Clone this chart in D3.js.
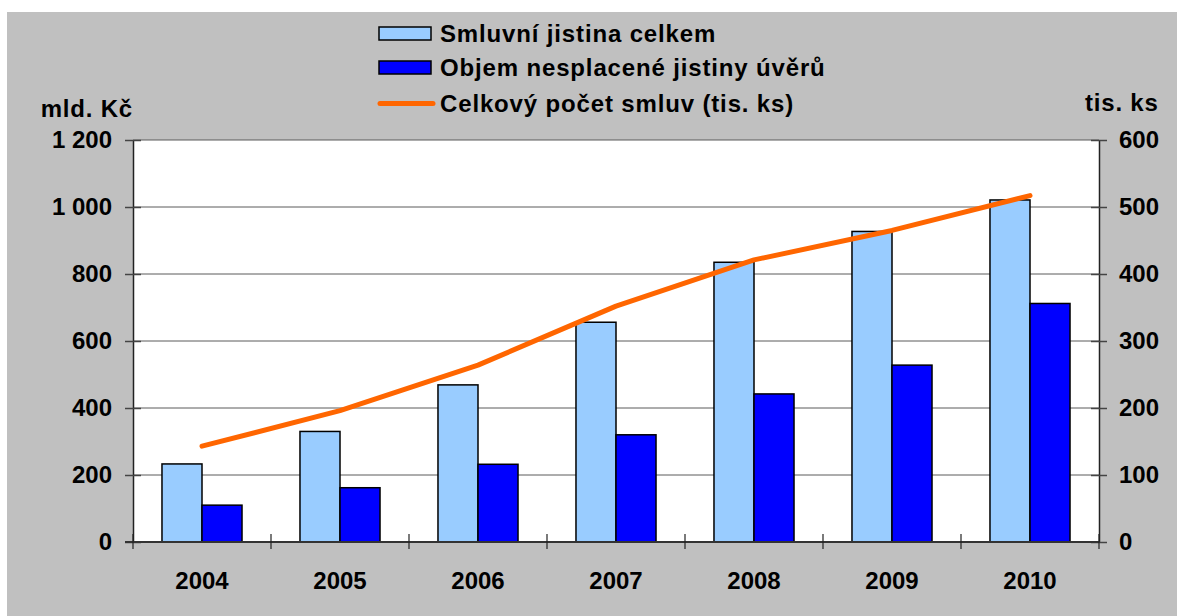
<!DOCTYPE html>
<html>
<head>
<meta charset="utf-8">
<script src="https://cdn.jsdelivr.net/npm/d3@7"></script>
<style>
html,body{margin:0;padding:0;background:#fff;}
svg{display:block;font-family:"Liberation Sans",Arial,sans-serif;font-weight:bold;}
</style>
</head>
<body>
<div id="chart"></div>
<script>
(function(){
const years=['2004','2005','2006','2007','2008','2009','2010'];
const smluvni=[233,330,469,656,835,927,1021];
const nesplacene=[110,162,232,320,442,528,712];
const pocetSmluv=[143,196,264,352,421,465,517];
const leftTicks=[0,200,400,600,800,1000,1200];
const rightTicks=[0,100,200,300,400,500,600];
const seriesNames=['Smluvní jistina celkem','Objem nesplacené jistiny úvěrů','Celkový počet smluv (tis. ks)'];
const barColors=['#99ccff','#0000ff'];
const lineColor='#ff6600';

const W=1177,H=616;
const m={left:133,right:1099,top:140,bottom:542};
const FONT='"Liberation Sans",Arial,sans-serif';
const svg=d3.select('#chart').append('svg').attr('width',W).attr('height',H);
svg.append('rect').attr('x',7).attr('y',12).attr('width',W-7).attr('height',H-12).attr('fill','#c0c0c0');
svg.append('rect').attr('x',m.left).attr('y',m.top).attr('width',m.right-m.left).attr('height',m.bottom-m.top).attr('fill','#fff');

const x=d3.scaleBand().domain(years).range([m.left,m.right]).padding(0);
const bw=x.bandwidth();
const x1=d3.scaleBand().domain([0,1]).range([bw*0.21,bw*0.79]).padding(0);
const y=d3.scaleLinear().domain([0,1200]).range([m.bottom,m.top]);
const y2=d3.scaleLinear().domain([0,600]).range([m.bottom,m.top]);
const fmt=d3.formatLocale({decimal:',',thousands:'\u00a0',grouping:[3],currency:['','']}).format(',d');

// gridlines
svg.append('g').selectAll('line').data(leftTicks.filter(d=>d>0)).enter().append('line')
 .attr('x1',m.left).attr('x2',m.right).attr('y1',d=>y(d)).attr('y2',d=>y(d))
 .attr('stroke','#5a5a5a').attr('stroke-width',1);

// bars
const data=years.map((yr,i)=>({yr,v:[smluvni[i],nesplacene[i]]}));
svg.append('g').selectAll('g').data(data).enter().append('g')
 .attr('transform',d=>`translate(${x(d.yr)},0)`)
 .selectAll('rect').data(d=>d.v).enter().append('rect')
 .attr('x',(d,i)=>x1(i)).attr('width',x1.bandwidth())
 .attr('y',d=>y(d)).attr('height',d=>y(0)-y(d))
 .attr('fill',(d,i)=>barColors[i]).attr('stroke','#000').attr('stroke-width',1.5);

function styleText(sel){
 sel.attr('font-size',24).attr('fill','#000').attr('font-family',FONT).attr('font-weight','bold');
}

// left axis
const la=svg.append('g').attr('transform',`translate(${m.left},0)`)
 .call(d3.axisLeft(y).tickValues(leftTicks).tickFormat(fmt).tickSizeInner(8).tickSizeOuter(0).tickPadding(13));
la.select('.domain').attr('stroke','#222').attr('stroke-width',1.5);
la.selectAll('.tick line').attr('x2',-8).attr('x1',8).attr('stroke','#444').attr('stroke-width',1.5);
styleText(la.selectAll('.tick text'));

// right axis
const ra=svg.append('g').attr('transform',`translate(${m.right},0)`)
 .call(d3.axisRight(y2).tickValues(rightTicks).tickSizeInner(8).tickSizeOuter(0).tickPadding(12));
ra.select('.domain').attr('stroke','#222').attr('stroke-width',1.5);
ra.selectAll('.tick line').attr('x1',-8).attr('x2',8).attr('stroke','#444').attr('stroke-width',1.5);
styleText(ra.selectAll('.tick text'));

// bottom axis
const ba=svg.append('g').attr('transform',`translate(0,${m.bottom})`)
 .call(d3.axisBottom(x).tickSize(0).tickPadding(30));
ba.select('.domain').remove();
styleText(ba.selectAll('.tick text'));
svg.append('line').attr('x1',m.left-8).attr('x2',m.right).attr('y1',m.bottom).attr('y2',m.bottom).attr('stroke','#333').attr('stroke-width',2);
svg.append('g').selectAll('line').data(years.map(d=>x(d)).concat([m.right])).enter().append('line')
 .attr('x1',d=>d).attr('x2',d=>d).attr('y1',m.bottom-8).attr('y2',m.bottom+7).attr('stroke','#222').attr('stroke-width',1.2);

// line series
const line=d3.line().x((d,i)=>x(years[i])+bw/2).y(d=>y2(d));
svg.append('path').attr('d',line(pocetSmluv)).attr('fill','none').attr('stroke',lineColor)
 .attr('stroke-width',5).attr('stroke-linecap','round').attr('stroke-linejoin','round');

// axis titles
svg.append('text').attr('x',133).attr('y',117).attr('text-anchor','end').attr('font-size',24).attr('letter-spacing',0.8).text('mld. Kč');
svg.append('text').attr('x',1085).attr('y',111).attr('font-size',24).attr('letter-spacing',0.8).text('tis. ks');

// legend
const lg=svg.append('g');
const rows=[33.5,67.5,103.5];
[0,1].forEach(i=>{
 lg.append('rect').attr('x',379).attr('y',rows[i]-6.5).attr('width',52).attr('height',13)
  .attr('fill',barColors[i]).attr('stroke','#000').attr('stroke-width',1.5);
});
lg.append('line').attr('x1',380).attr('x2',433).attr('y1',rows[2]).attr('y2',rows[2])
 .attr('stroke',lineColor).attr('stroke-width',5).attr('stroke-linecap','round');
seriesNames.forEach((s,i)=>{
 lg.append('text').attr('x',440).attr('y',rows[i]+8).attr('font-size',24).attr('letter-spacing',0.85).attr('fill','#000').text(s);
});
})();
</script>
</body>
</html>
